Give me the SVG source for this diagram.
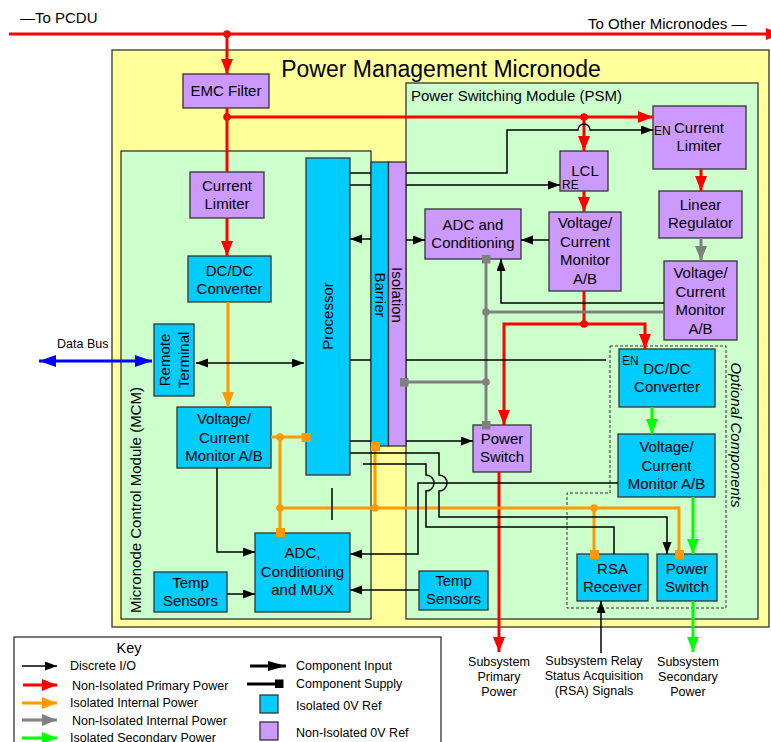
<svg xmlns="http://www.w3.org/2000/svg" width="771" height="742" viewBox="0 0 771 742">
<defs>
<style>
text{font-family:"Liberation Sans",Arial,sans-serif;fill:#000}
.t{font-size:15px;text-anchor:middle}
.sm{font-size:12.5px}
.lbl{font-size:12.5px;text-anchor:middle}
.en{font-size:12px}
.box{stroke:#333;stroke-width:1.3}
.p{fill:#CC99FF}
.b{fill:#00CCFF}
.frame{stroke:#333;stroke-width:1.3}
.red{stroke:#FF0000;stroke-width:3;fill:none}
.org{stroke:#FF9900;stroke-width:3;fill:none}
.gry{stroke:#808080;stroke-width:3;fill:none}
.grn{stroke:#00FF00;stroke-width:3;fill:none}
.blu{stroke:#0000FF;stroke-width:3;fill:none}
.blk{stroke:#000;stroke-width:1.5;fill:none}
.ar-r{marker-end:url(#m-red)}
.ar-o{marker-end:url(#m-org)}
.ar-g{marker-end:url(#m-gry)}
.ar-gn{marker-end:url(#m-grn)}
.ar-k{marker-end:url(#m-blk)}
.dr{fill:#FF0000}
.do{fill:#FF9900}
.dg{fill:#808080}
</style>
<marker id="m-red" markerUnits="userSpaceOnUse" markerWidth="16" markerHeight="13" refX="15" refY="6" orient="auto"><path d="M0,0 L15,6 L0,12 z" fill="#FF0000"/></marker>
<marker id="m-org" markerUnits="userSpaceOnUse" markerWidth="16" markerHeight="13" refX="15" refY="6" orient="auto"><path d="M0,0 L15,6 L0,12 z" fill="#FF9900"/></marker>
<marker id="m-gry" markerUnits="userSpaceOnUse" markerWidth="16" markerHeight="13" refX="15" refY="6" orient="auto"><path d="M0,0 L15,6 L0,12 z" fill="#808080"/></marker>
<marker id="m-grn" markerUnits="userSpaceOnUse" markerWidth="16" markerHeight="13" refX="15" refY="6" orient="auto"><path d="M0,0 L15,6 L0,12 z" fill="#00FF00"/></marker>
<marker id="m-blu" markerUnits="userSpaceOnUse" markerWidth="18" markerHeight="13" refX="17" refY="6" orient="auto-start-reverse"><path d="M0,0 L17,6 L0,12 z" fill="#0000FF"/></marker>
<marker id="m-blk" markerUnits="userSpaceOnUse" markerWidth="13" markerHeight="10" refX="12" refY="4.5" orient="auto-start-reverse"><path d="M0,0 L12,4.5 L0,9 z" fill="#000"/></marker>
<marker id="m-blk-big" markerUnits="userSpaceOnUse" markerWidth="19" markerHeight="11" refX="18" refY="5" orient="auto"><path d="M0,0 L18,5 L0,10 z" fill="#000"/></marker>
</defs>
<rect width="771" height="742" fill="#fff"/>

<!-- containers -->
<g id="micronode">
<rect x="112" y="50" width="657" height="577" fill="#FFFF99" class="frame"/>
<text x="441" y="77" font-size="23" text-anchor="middle">Power Management Micronode</text>
</g>
<g id="mcm">
<rect x="121" y="151" width="250" height="468" fill="#CCFFCC" class="frame"/>
<text class="t" transform="translate(140.5,500) rotate(-90)">Micronode Control Module (MCM)</text>
</g>
<g id="psm">
<rect x="406" y="83" width="352" height="536" fill="#CCFFCC" class="frame"/>
<text x="411" y="101" font-size="15">Power Switching Module (PSM)</text>
</g>
<g id="optional-components">
<path d="M610,346 H726 V608 H567 V493 H610 Z" fill="none" stroke="#333" stroke-width="1" stroke-dasharray="3,2"/>
<text class="t" font-style="italic" transform="translate(731,435) rotate(90)">Optional Components</text>
</g>

<!-- top texts -->
<text x="20" y="23" font-size="15">—To PCDU</text>
<text x="588" y="29" font-size="15">To Other Micronodes —</text>

<!-- nodes -->
<g id="emc-filter"><rect x="183" y="74" width="86" height="34" class="box p"/><text class="t" x="226" y="96">EMC Filter</text></g>
<g id="mcm-current-limiter"><rect x="190" y="172" width="74" height="46" class="box p"/><text class="t" x="227" y="191">Current<tspan x="227" dy="17.5">Limiter</tspan></text></g>
<g id="mcm-dcdc"><rect x="188" y="256" width="83" height="46" class="box b"/><text class="t" x="229.5" y="275.5">DC/DC<tspan x="229.5" dy="18">Converter</tspan></text></g>
<g id="remote-terminal"><rect x="154" y="324" width="40" height="72" class="box b"/><text class="t" transform="translate(170,360) rotate(-90)">Remote<tspan x="0" dy="18.5">Terminal</tspan></text></g>
<g id="mcm-vc-monitor"><rect x="177" y="407" width="94" height="61" class="box b"/><text class="t" x="224" y="424">Voltage/<tspan x="224" dy="18.5">Current</tspan><tspan x="224" dy="18.5">Monitor A/B</tspan></text></g>
<g id="processor"><rect x="306" y="158" width="44" height="317" class="box b"/><text class="t" transform="translate(332.5,316) rotate(-90)">Processor</text></g>
<g id="isolation-barrier">
<rect x="371" y="162" width="17.5" height="284" class="box b"/>
<rect x="388.5" y="162" width="17.5" height="284" class="box p"/>
<text class="t" transform="translate(374.5,295) rotate(90)">Barrier</text>
<text class="t" transform="translate(391.5,295) rotate(90)">Isolation</text>
</g>
<g id="mcm-adc-mux"><rect x="255" y="533" width="95" height="79" class="box b"/><text class="t" x="302.5" y="558">ADC,<tspan x="302.5" dy="18.5">Conditioning</tspan><tspan x="302.5" dy="18.5">and MUX</tspan></text></g>
<g id="mcm-temp-sensors"><rect x="154" y="572" width="73" height="40" class="box b"/><text class="t" x="190.5" y="588">Temp<tspan x="190.5" dy="18">Sensors</tspan></text></g>

<g id="psm-current-limiter"><rect x="653" y="106" width="93" height="63" class="box p"/><text class="en" x="654" y="135">EN</text><text class="t" x="699" y="133">Current<tspan x="699" dy="18">Limiter</tspan></text></g>
<g id="lcl"><rect x="560" y="151" width="48" height="40" class="box p"/><text class="t" x="585" y="176">LCL</text><text class="en" x="562" y="189">RE</text></g>
<g id="linear-regulator"><rect x="659" y="191" width="83" height="47" class="box p"/><text class="t" x="700.5" y="210">Linear<tspan x="700.5" dy="18">Regulator</tspan></text></g>
<g id="psm-adc"><rect x="425" y="209" width="96" height="50" class="box p"/><text class="t" x="473" y="230">ADC and<tspan x="473" dy="18">Conditioning</tspan></text></g>
<g id="psm-vc-monitor-1"><rect x="549" y="212" width="72" height="79" class="box p"/><text class="t" x="585" y="228">Voltage/<tspan x="585" dy="18.5">Current</tspan><tspan x="585" dy="18.5">Monitor</tspan><tspan x="585" dy="18.5">A/B</tspan></text></g>
<g id="psm-vc-monitor-2"><rect x="664" y="261" width="73" height="79" class="box p"/><text class="t" x="700.5" y="278">Voltage/<tspan x="700.5" dy="18.5">Current</tspan><tspan x="700.5" dy="18.5">Monitor</tspan><tspan x="700.5" dy="18.5">A/B</tspan></text></g>
<g id="psm-power-switch"><rect x="473" y="425" width="58" height="47" class="box p"/><text class="t" x="502" y="444">Power<tspan x="502" dy="18">Switch</tspan></text></g>
<g id="psm-temp-sensors"><rect x="419" y="571" width="69" height="39" class="box b"/><text class="t" x="453.5" y="586">Temp<tspan x="453.5" dy="18">Sensors</tspan></text></g>
<g id="opt-dcdc"><rect x="619" y="349" width="96" height="58" class="box b"/><text class="en" x="622" y="365">EN</text><text class="t" x="667" y="374">DC/DC<tspan x="667" dy="18">Converter</tspan></text></g>
<g id="opt-vc-monitor"><rect x="618" y="434" width="97" height="63" class="box b"/><text class="t" x="666.5" y="452">Voltage/<tspan x="666.5" dy="18.5">Current</tspan><tspan x="666.5" dy="18.5">Monitor A/B</tspan></text></g>
<g id="rsa-receiver"><rect x="577" y="554" width="71" height="47" class="box b"/><text class="t" x="612.5" y="574">RSA<tspan x="612.5" dy="18">Receiver</tspan></text></g>
<g id="opt-power-switch"><rect x="657" y="554" width="60" height="47" class="box b"/><text class="t" x="687" y="574">Power<tspan x="687" dy="18">Switch</tspan></text></g>

<!-- connectors -->
<g id="connectors">
<!-- red -->
<path class="red ar-r" d="M9,34 H781"/>
<path class="red ar-r" d="M227,34 V74"/>
<path class="red" d="M227,108 V172"/>
<path class="red ar-r" d="M227,117 H653"/>
<path class="red ar-r" d="M584,117 V151"/>
<path class="red ar-r" d="M227,218 V256"/>
<path class="red ar-r" d="M701,169 V191"/>
<path class="red ar-r" d="M584,191 V212"/>
<path class="red" d="M584,291 V324"/>
<path class="red ar-r" d="M584,324 H504 V425"/>
<path class="red ar-r" d="M584,324 H645 V349"/>
<path class="red ar-r" d="M499,472 V652"/>
<circle class="dr" cx="227" cy="34" r="3.8"/>
<circle class="dr" cx="227" cy="117" r="3.8"/>
<circle class="dr" cx="584" cy="117" r="3.8"/>
<circle class="dr" cx="584" cy="324" r="3.8"/>
<!-- orange -->
<path class="org ar-o" d="M228,302 V407"/>
<path class="org" d="M271,437 H306"/>
<path class="org" d="M280,437 V532"/>
<path class="org" d="M280,508 H679 V554"/>
<path class="org" d="M375,446 V508"/>
<path class="org" d="M594,508 V554"/>
<circle class="do" cx="280" cy="437" r="3.8"/>
<circle class="do" cx="280" cy="508" r="3.8"/>
<circle class="do" cx="375" cy="508" r="3.8"/>
<circle class="do" cx="594" cy="508" r="3.8"/>
<rect class="do" x="301.5" y="433" width="9" height="9"/>
<rect class="do" x="276" y="528" width="9" height="9"/>
<rect class="do" x="371" y="442" width="9" height="9"/>
<rect class="do" x="590" y="550" width="9" height="9"/>
<rect class="do" x="675" y="550" width="9" height="9"/>
<!-- gray -->
<path class="gry ar-g" d="M701,238 V261"/>
<path class="gry" d="M664,312 H486"/>
<path class="gry" d="M486,259 V425"/>
<path class="gry" d="M486,382 H404"/>
<circle class="dg" cx="486" cy="312" r="3.8"/>
<circle class="dg" cx="486" cy="382" r="3.8"/>
<rect class="dg" x="482" y="255" width="8.5" height="8.5"/>
<rect class="dg" x="482" y="421" width="8.5" height="8.5"/>
<rect class="dg" x="400" y="378" width="8.5" height="8.5"/>
<!-- green -->
<path class="grn ar-gn" d="M652,407 V434"/>
<path class="grn ar-gn" d="M693,497 V554"/>
<path class="grn ar-gn" d="M693,601 V652"/>
<!-- blue data bus -->
<path class="blu" d="M39,361 H152" marker-start="url(#m-blu)" marker-end="url(#m-blu)"/>
<text class="sm" x="57" y="348">Data Bus</text>
<!-- black -->
<path class="blk" d="M196,363 H304" marker-start="url(#m-blk)" marker-end="url(#m-blk)"/>
<path class="blk" d="M350,173 H371"/>
<path class="blk ar-k" d="M406,173 H507 V130 H578 A6,6 0 0 1 590,130 H653"/>
<path class="blk" d="M350,185 H371"/>
<path class="blk ar-k" d="M406,185 H560"/>
<path class="blk ar-k" d="M371,239 H350"/>
<path class="blk ar-k" d="M406,240 H425"/>
<path class="blk ar-k" d="M549,240 H521"/>
<path class="blk ar-k" d="M664,303 H501 V259"/>
<path class="blk" d="M350,360 H371"/>
<path class="blk" d="M406,360 H606"/>
<path class="blk" d="M350,441 H371"/>
<path class="blk ar-k" d="M406,441 H473"/>
<path class="blk ar-k" d="M350,453 H439 V475 A8,8 0 0 1 439,491 V517 H667 V554"/>
<path class="blk" d="M363,464 H426 V475 A8,8 0 0 1 426,491 V527 H614 V554"/>
<path class="blk ar-k" d="M618,483 H418 V554 H350"/>
<path class="blk ar-k" d="M419,590 H350"/>
<path class="blk ar-k" d="M217,468 V552 H255"/>
<path class="blk ar-k" d="M227,594 H255"/>
<path class="blk" d="M332,488 V520"/>
<path class="blk ar-k" d="M601,653 V601"/>
</g>

<!-- bottom labels -->
<text class="lbl" x="499" y="666">Subsystem<tspan x="499" dy="15">Primary</tspan><tspan x="499" dy="15">Power</tspan></text>
<text class="lbl" x="594" y="664.5">Subsystem Relay<tspan x="594" dy="15">Status Acquisition</tspan><tspan x="594" dy="15">(RSA) Signals</tspan></text>
<text class="lbl" x="688" y="666">Subsystem<tspan x="688" dy="15">Secondary</tspan><tspan x="688" dy="15">Power</tspan></text>

<!-- key -->
<g id="key">
<rect x="14" y="637" width="427" height="120" fill="#fff" stroke="#333" stroke-width="1.3"/>
<text x="129" y="653" font-size="14.5" text-anchor="middle">Key</text>
<path class="blk ar-k" d="M22,666 H57"/>
<path class="red ar-r" d="M23,685 H57"/>
<path class="org ar-o" d="M22,703 H57"/>
<path class="gry ar-g" d="M22,720 H57"/>
<path class="grn ar-gn" d="M22,738 H57"/>
<text class="sm" x="70" y="670">Discrete I/O</text>
<text class="sm" x="72" y="690">Non-Isolated Primary Power</text>
<text class="sm" x="70" y="707">Isolated Internal Power</text>
<text class="sm" x="72" y="725">Non-Isolated Internal Power</text>
<text class="sm" x="70" y="742">Isolated Secondary Power</text>
<path d="M250,666 H286" stroke="#000" stroke-width="3" marker-end="url(#m-blk-big)"/>
<path d="M247,684 H280" stroke="#000" stroke-width="3"/>
<rect x="275" y="679.5" width="8.5" height="8.5" fill="#000"/>
<rect x="260" y="695" width="18" height="18" class="box b"/>
<rect x="260" y="722" width="18" height="18" class="box p"/>
<text class="sm" x="296" y="670">Component Input</text>
<text class="sm" x="296" y="688">Component Supply</text>
<text class="sm" x="296" y="710">Isolated 0V Ref</text>
<text class="sm" x="296" y="737">Non-Isolated 0V Ref</text>
</g>
</svg>
